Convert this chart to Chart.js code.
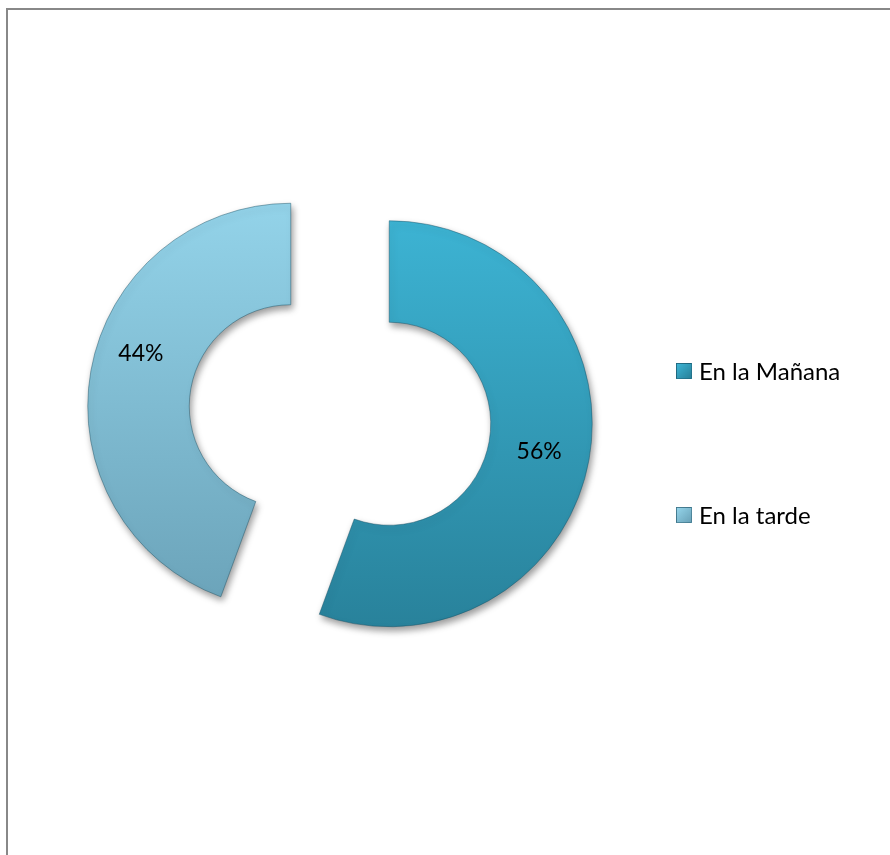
<!DOCTYPE html>
<html>
<head>
<meta charset="utf-8">
<script src="https://cdn.jsdelivr.net/npm/chart.js@4.4.0/dist/chart.umd.min.js"></script>
<style>
  body { margin: 0; background: #fff; }
  #wrap { position: relative; width: 890px; height: 855px; overflow: hidden; }
  #frame { position: absolute; left: 6px; top: 8px; right: -10px; bottom: -10px;
           border-left: 2px solid #888; border-top: 2px solid #888; }
  #chartBox { position: absolute; left: 0; top: 0; width: 890px; height: 855px; }
  .leg { position: absolute; left: 676px; font: 24px Lato, sans-serif; line-height: 28px; color: #000; white-space: nowrap; }
  .leg i { position: absolute; left: 0; width: 16px; height: 16px; box-sizing: border-box;
           border: 1px solid rgba(20,70,90,0.5); }
  .leg span { position: absolute; left: 23px; }
</style>
</head>
<body>
<div id="wrap">
  <div id="frame"></div>
  <div id="chartBox"><canvas id="myChart"></canvas></div>
  <div id="legend"></div>
</div>
<script>
const labels = ["En la Mañana", "En la tarde"];
const values = [55.6, 44.4];

// colours: [top, bottom] of each slice's gradient
const sliceColors = [
  ["#3db4d4", "#28819a"],
  ["#94d4ea", "#6aa2b8"],
];
const EXPLODE = 50;
const LABEL_NUDGE = [[0, 1], [0, -26]];

function sliceFill(context) {
  const chart = context.chart;
  const cols = sliceColors[context.dataIndex];
  if (!chart.chartArea) return cols[0];
  const el = chart.getDatasetMeta(0).data[context.dataIndex];
  const cy = el && el.y ? el.y : 415;
  const g = chart.ctx.createLinearGradient(0, cy - 210, 0, cy + 210);
  g.addColorStop(0, cols[0]);
  g.addColorStop(1, cols[1]);
  return g;
}

const explodePlugin = {
  id: "explode",
  beforeDatasetsDraw(chart) {
    const ctx = chart.ctx;
    chart.getDatasetMeta(0).data.forEach(function (arc) {
      const mid = (arc.startAngle + arc.endAngle) / 2;
      ctx.save();
      ctx.translate(Math.cos(mid) * EXPLODE, Math.sin(mid) * EXPLODE);
      ctx.shadowColor = "rgba(0,0,0,0.4)";
      ctx.shadowBlur = 7;
      ctx.shadowOffsetX = 2;
      ctx.shadowOffsetY = 4;
      arc.draw(ctx);
      ctx.restore();
    });
    return false;
  },
  afterDraw(chart) {
    const ctx = chart.ctx;
    const total = values.reduce((a, b) => a + b, 0);
    ctx.save();
    ctx.font = "23px Lato, sans-serif";
    ctx.fillStyle = "#000";
    ctx.textAlign = "center";
    ctx.textBaseline = "middle";
    chart.getDatasetMeta(0).data.forEach(function (arc, i) {
      const mid = (arc.startAngle + arc.endAngle) / 2;
      const r = (arc.innerRadius + arc.outerRadius) / 2 + EXPLODE;
      const x = arc.x + Math.cos(mid) * r + LABEL_NUDGE[i][0];
      const y = arc.y + Math.sin(mid) * r + LABEL_NUDGE[i][1];
      ctx.fillText(Math.round(values[i] / total * 100) + "%", x, y);
    });
    ctx.restore();
  },
};

new Chart(document.getElementById("myChart"), {
  type: "doughnut",
  data: {
    labels: labels,
    datasets: [{
      data: values,
      backgroundColor: sliceFill,
      borderColor: "rgba(25,80,100,0.45)",
      borderWidth: 1,
    }],
  },
  options: {
    responsive: true,
    maintainAspectRatio: false,
    animation: false,
    events: [],
    radius: 203,
    cutout: "50%",
    layout: { padding: { left: 0, right: 210, top: 0, bottom: 25 } },
    plugins: { legend: { display: false }, tooltip: { enabled: false } },
  },
  plugins: [explodePlugin],
});

// legend
const legTops = [357, 501];
const legend = document.getElementById("legend");
labels.forEach(function (name, i) {
  const d = document.createElement("div");
  d.className = "leg";
  d.style.top = legTops[i] + "px";
  d.innerHTML = '<i style="top:6px;background:linear-gradient(135deg,' + sliceColors[i][0] + ',' + sliceColors[i][1] + ')"></i><span>' + name + '</span>';
  legend.appendChild(d);
});
</script>
</body>
</html>
